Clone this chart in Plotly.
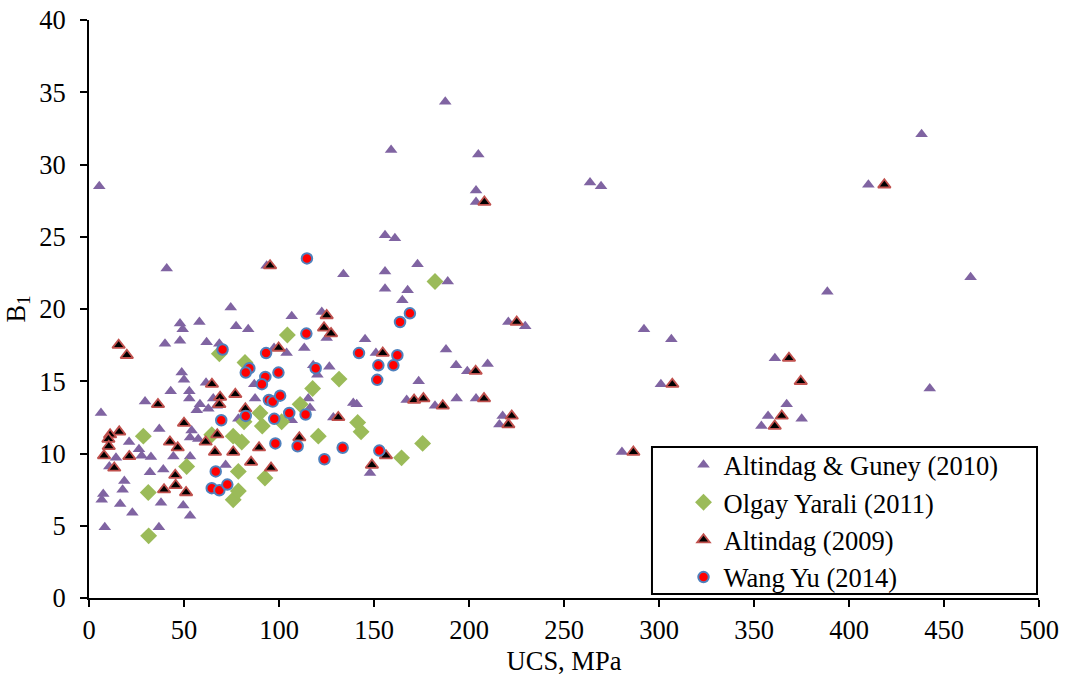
import plotly.graph_objects as go

# Altindag & Guney (2010)
ag_ucs = [5.4, 40.9, 93.5, 74.6, 47.9, 49.3, 58.1, 77.4, 83.8, 40.0, 47.9, 61.9, 68.6, 97.4, 87.0, 48.8, 50.0,
          43.0, 52.8, 52.8, 61.6, 65.4, 67.2, 62.8, 56.7, 58.4, 29.5, 6.3, 87.4, 78.6, 37.0, 54.0, 10.7, 21.1,
          26.3, 27.7, 14.2, 32.6, 44.4, 53.2, 53.2, 57.5, 71.9, 39.1, 32.1, 18.6, 17.7, 7.5, 6.7, 37.9, 49.6,
          16.4, 22.8, 53.2, 8.3, 36.8, 159.0, 155.8, 161.0, 133.9, 155.8, 172.9, 188.8, 155.8, 167.7, 164.9,
          106.7, 122.5, 125.1, 145.3, 187.9, 113.3, 104.0, 151.0, 193.2, 173.5, 167.2, 182.1, 193.5, 118.0,
          120.2, 126.5, 115.4, 116.3, 106.7, 139.1, 140.9, 128.6, 147.9, 187.5, 204.9, 203.7, 203.7, 263.7,
          269.5, 220.7, 229.6, 199.1, 209.8, 203.7, 217.7, 216.0, 280.5, 410.2, 438.2, 464.0, 388.6, 292.1,
          306.5, 361.0, 301.0, 442.5, 367.2, 357.4, 375.1, 353.9]
ag_b1 = [28.5, 22.8, 23.0, 20.1, 19.0, 18.6, 19.1, 18.8, 18.6, 17.6, 17.8, 17.7, 17.6, 17.3, 14.8, 15.6, 15.1,
         14.3, 14.3, 13.8, 14.9, 13.8, 13.3, 13.1, 13.0, 13.4, 13.6, 12.8, 13.8, 12.4, 11.7, 11.6, 9.1, 10.8,
         10.3, 9.85, 9.7, 9.75, 9.8, 9.8, 11.1, 11.0, 9.2, 8.9, 8.7, 8.1, 7.5, 7.2, 6.8, 6.6, 6.4,
         6.5, 5.9, 5.7, 4.9, 4.9, 31.0, 25.1, 24.9, 22.4, 22.6, 23.1, 21.9, 21.4, 21.3, 20.6,
         19.5, 19.8, 18.0, 17.9, 17.2, 17.3, 16.95, 16.95, 16.1, 15.0, 13.7, 13.3, 13.8, 16.1,
         15.45, 16.0, 13.8, 13.15, 12.3, 13.5, 13.4, 12.5, 8.65, 34.35, 30.7, 28.2, 27.4, 28.75,
         28.5, 19.1, 18.8, 15.7, 16.2, 13.8, 12.6, 12.0, 10.1, 28.6, 32.1, 22.2, 21.2, 18.6,
         17.9, 16.6, 14.8, 14.5, 13.4, 12.6, 12.4, 11.9]

# Olgay Yarali (2011)
oy_ucs = [68.6, 82.1, 81.6, 90.0, 91.2, 28.6, 64.6, 75.9, 80.4, 51.4, 78.6, 92.6, 31.2, 75.9, 78.6, 31.4,
          182.1, 104.4, 131.6, 117.7, 111.1, 101.4, 141.4, 143.2, 120.7, 175.6, 164.5]
oy_b1 = [16.9, 16.3, 12.2, 12.8, 11.9, 11.2, 11.3, 11.2, 10.8, 9.1, 8.76, 8.3, 7.3, 6.8, 7.4, 4.3,
         21.9, 18.2, 15.15, 14.5, 13.4, 12.2, 12.15, 11.5, 11.2, 10.7, 9.7]

# Altindag (2009)
a9_ucs = [15.6, 19.9, 95.3, 99.8, 64.7, 69.0, 68.6, 77.0, 36.3, 82.3, 50.0, 15.9, 11.1, 10.2, 10.4, 7.9,
          13.3, 21.2, 42.6, 46.7, 61.4, 67.5, 66.3, 75.9, 89.5, 85.3, 95.8, 45.4, 45.6, 39.5, 51.1, 125.1,
          123.7, 127.4, 154.6, 171.1, 176.0, 186.2, 131.2, 110.7, 156.3, 148.9, 208.1, 225.1, 203.5, 207.9,
          222.5, 220.7, 286.5, 418.6, 368.4, 307.0, 374.6, 364.6, 360.9]
a9_b1 = [17.5, 16.8, 23.0, 17.3, 14.8, 13.9, 13.4, 14.1, 13.4, 13.1, 12.1, 11.5, 11.3, 11.0, 10.5, 9.85,
         9.0, 9.8, 10.8, 10.4, 10.8, 11.3, 10.1, 10.1, 10.4, 9.4, 9.0, 8.5, 7.8, 7.5, 7.3, 19.55,
         18.7, 18.3, 16.95, 13.7, 13.8, 13.3, 12.5, 11.1, 9.85, 9.2, 27.4, 19.1, 15.7, 13.8,
         12.6, 12.0, 10.1, 28.6, 16.6, 14.8, 15.0, 12.6, 11.9]

# Wang Yu (2014)
wy_ucs = [70.3, 93.2, 99.7, 84.4, 82.5, 92.8, 91.0, 94.7, 96.7, 100.6, 69.6, 82.5, 97.5, 98.1, 66.7, 64.6,
          68.6, 72.8, 114.7, 168.9, 163.7, 114.4, 142.1, 162.3, 152.3, 160.2, 151.7, 119.3, 105.4, 114.0,
          109.8, 133.5, 123.9, 152.8]
wy_b1 = [17.2, 16.95, 15.6, 15.9, 15.6, 15.3, 14.8, 13.7, 13.6, 14.0, 12.3, 12.6, 12.4, 10.7, 8.76, 7.6,
         7.45, 7.85, 23.5, 19.7, 19.1, 18.3, 16.95, 16.8, 16.1, 16.1, 15.1, 15.9, 12.8, 12.7,
         10.5, 10.4, 9.6, 10.2]

FONT = "Liberation Serif, Times New Roman, serif"
FS = 26.5

fig = go.Figure()
fig.add_trace(go.Scatter(x=ag_ucs, y=ag_b1, mode="markers", name="Altindag & Guney (2010)",
                         marker=dict(symbol="triangle-up", size=11, color="#8064A2", line=dict(width=0))))
fig.add_trace(go.Scatter(x=oy_ucs, y=oy_b1, mode="markers", name="Olgay Yarali (2011)",
                         marker=dict(symbol="diamond", size=13, color="#9BBB59", line=dict(width=0))))
fig.add_trace(go.Scatter(x=a9_ucs, y=a9_b1, mode="markers", name="Altindag (2009)",
                         marker=dict(symbol="triangle-up", size=11, color="#000000",
                                     line=dict(width=1.8, color="#C0504D"))))
fig.add_trace(go.Scatter(x=wy_ucs, y=wy_b1, mode="markers", name="Wang Yu (2014)",
                         marker=dict(symbol="circle", size=10.5, color="#FF0000",
                                     line=dict(width=2, color="#4F81BD"))))

# legend frame
fig.add_shape(type="rect", xref="paper", yref="paper", x0=0.5926, x1=0.9979, y0=0.0069, y1=0.2612,
              line=dict(color="black", width=2), fillcolor="white", layer="above")

axis_common = dict(showgrid=False, zeroline=False, showline=True, linecolor="black", linewidth=2,
                   ticks="outside", ticklen=7, tickwidth=2, tickcolor="black", automargin=False,
                   ticklabeloverflow="allow",
                   tickfont=dict(family=FONT, size=FS, color="black"), mirror=False)

fig.update_layout(
    width=1066, height=680,
    margin=dict(l=89, r=27, t=20, b=82),
    paper_bgcolor="white", plot_bgcolor="white",
    font=dict(family=FONT, size=FS, color="black"),
    xaxis=dict(range=[0, 500], dtick=50, tick0=0,
               title=dict(text="UCS, MPa", font=dict(family=FONT, size=FS, color="black"), standoff=8),
               **axis_common),
    yaxis=dict(range=[0, 40], dtick=5, tick0=0, ticklabelstandoff=9,
               title=dict(text="B<sub>1</sub>", font=dict(family=FONT, size=FS, color="black"), standoff=6),
               **axis_common),
    legend=dict(x=0.6258, y=0.2716, xanchor="left", yanchor="top", bgcolor="rgba(0,0,0,0)",
                borderwidth=0, font=dict(family=FONT, size=FS, color="black"), tracegroupgap=0),
    showlegend=True,
)

# remove the default 8px page margin so the 1066x680 figure fills the window exactly
fig.write_html("out.html", config={"displayModeBar": False},
               post_script="document.body.style.margin='0';document.body.style.overflow='hidden';")
